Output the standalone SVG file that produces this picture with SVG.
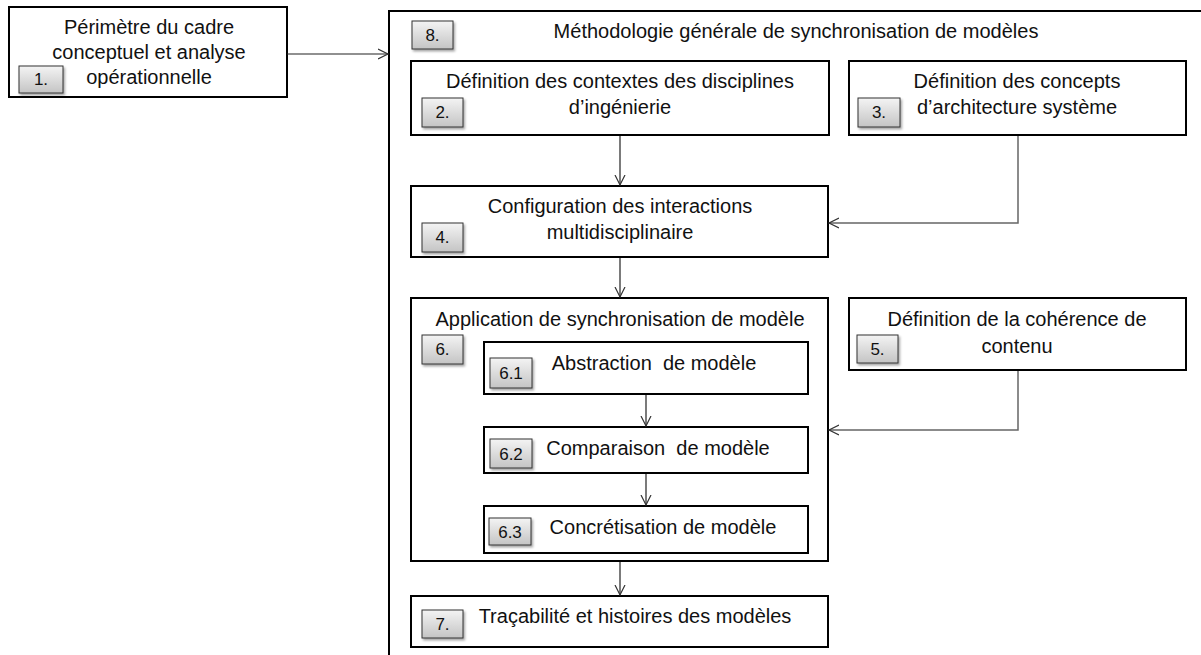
<svg xmlns="http://www.w3.org/2000/svg" width="1201" height="655" viewBox="0 0 1201 655">
<defs>
<linearGradient id="bg" x1="0" y1="0" x2="0" y2="1">
<stop offset="0" stop-color="#f4f4f4"/>
<stop offset="1" stop-color="#c4c4c4"/>
</linearGradient>
<filter id="sh" x="-20%" y="-20%" width="150%" height="150%">
<feDropShadow dx="1.5" dy="2" stdDeviation="1.2" flood-color="#000" flood-opacity="0.35"/>
</filter>
<marker id="ah" markerWidth="12" markerHeight="12" refX="10" refY="6" orient="auto" markerUnits="userSpaceOnUse">
<path d="M0,1 L10,6 L0,11" fill="none" stroke="#333" stroke-width="1.2"/>
</marker>
<style>
.box{fill:#fff;stroke:#000;stroke-width:2}
.badge{fill:url(#bg);stroke:#333;stroke-width:1;filter:url(#sh)}
.t{font-family:"Liberation Sans",Arial,sans-serif;font-size:20px;fill:#111;text-anchor:middle;white-space:pre}
.bt{font-family:"Liberation Sans",Arial,sans-serif;font-size:17px;fill:#111;text-anchor:middle}
.c{fill:none;stroke:#222;stroke-width:1.2}
.g{fill:none;stroke:#666;stroke-width:1.5}
</style>
</defs>
<rect width="1201" height="655" fill="#fff"/>

<g id="n8">
<rect class="box" x="389" y="11" width="900" height="700"/>
<rect class="badge" x="412" y="21" width="41" height="28"/>
<text class="bt" x="432.5" y="41">8.</text>
<text class="t" x="796" y="38">Méthodologie générale de synchronisation de modèles</text>
</g>

<g id="n1">
<rect class="box" x="9" y="7" width="278" height="90"/>
<rect class="badge" x="19" y="66" width="44" height="27"/>
<text class="bt" x="41" y="85">1.</text>
<text class="t" x="149" y="34">Périmètre du cadre</text>
<text class="t" x="149" y="59">conceptuel et analyse</text>
<text class="t" x="149" y="84">opérationnelle</text>
</g>

<g id="n2">
<rect class="box" x="411" y="61" width="418" height="74"/>
<rect class="badge" x="422" y="98" width="41" height="29"/>
<text class="bt" x="442.5" y="118">2.</text>
<text class="t" x="620" y="88">Définition des contextes des disciplines</text>
<text class="t" x="620" y="114">d’ingénierie</text>
</g>

<g id="n3">
<rect class="box" x="849" y="61" width="337" height="74"/>
<rect class="badge" x="858" y="98" width="42" height="29"/>
<text class="bt" x="879" y="118">3.</text>
<text class="t" x="1017" y="88">Définition des concepts</text>
<text class="t" x="1017" y="114">d’architecture système</text>
</g>

<g id="n4">
<rect class="box" x="411" y="186" width="417" height="71"/>
<rect class="badge" x="422" y="223" width="41" height="29"/>
<text class="bt" x="442.5" y="243">4.</text>
<text class="t" x="620" y="213">Configuration des interactions</text>
<text class="t" x="620" y="239">multidisciplinaire</text>
</g>

<g id="n5">
<rect class="box" x="849" y="298" width="337" height="72"/>
<rect class="badge" x="857" y="335" width="41" height="28"/>
<text class="bt" x="877.5" y="355">5.</text>
<text class="t" x="1017" y="326">Définition de la cohérence de</text>
<text class="t" x="1017" y="353">contenu</text>
</g>

<g id="n6">
<rect class="box" x="411" y="298" width="417" height="263"/>
<rect class="badge" x="422" y="335" width="41" height="29"/>
<text class="bt" x="442.5" y="355">6.</text>
<text class="t" x="620" y="326">Application de synchronisation de modèle</text>
</g>

<g id="n61">
<rect class="box" x="484" y="342" width="324" height="52"/>
<rect class="badge" x="490" y="358" width="42" height="30"/>
<text class="bt" x="511" y="379">6.1</text>
<text class="t" x="654" y="370">Abstraction  de modèle</text>
</g>

<g id="n62">
<rect class="box" x="484" y="427" width="324" height="46"/>
<rect class="badge" x="490" y="439" width="42" height="29"/>
<text class="bt" x="511" y="460">6.2</text>
<text class="t" x="658" y="455">Comparaison  de modèle</text>
</g>

<g id="n63">
<rect class="box" x="484" y="506" width="324" height="47"/>
<rect class="badge" x="489" y="518" width="42" height="27"/>
<text class="bt" x="510" y="538">6.3</text>
<text class="t" x="663" y="534">Concrétisation de modèle</text>
</g>

<g id="n7">
<rect class="box" x="411" y="596" width="417" height="51"/>
<rect class="badge" x="422" y="610" width="41" height="28"/>
<text class="bt" x="442.5" y="630">7.</text>
<text class="t" x="635" y="623">Traçabilité et histoires des modèles</text>
</g>

<g id="connectors">
<path class="c" d="M287,54 H388" marker-end="url(#ah)"/>
<path class="c" d="M620,136 V185" marker-end="url(#ah)"/>
<path class="g" d="M1018,136 V223 H829" marker-end="url(#ah)"/>
<path class="c" d="M620,258 V297" marker-end="url(#ah)"/>
<path class="g" d="M1018,371 V430 H829" marker-end="url(#ah)"/>
<path class="c" d="M646,395 V426" marker-end="url(#ah)"/>
<path class="c" d="M646,474 V505" marker-end="url(#ah)"/>
<path class="c" d="M620,562 V595" marker-end="url(#ah)"/>
</g>
</svg>
